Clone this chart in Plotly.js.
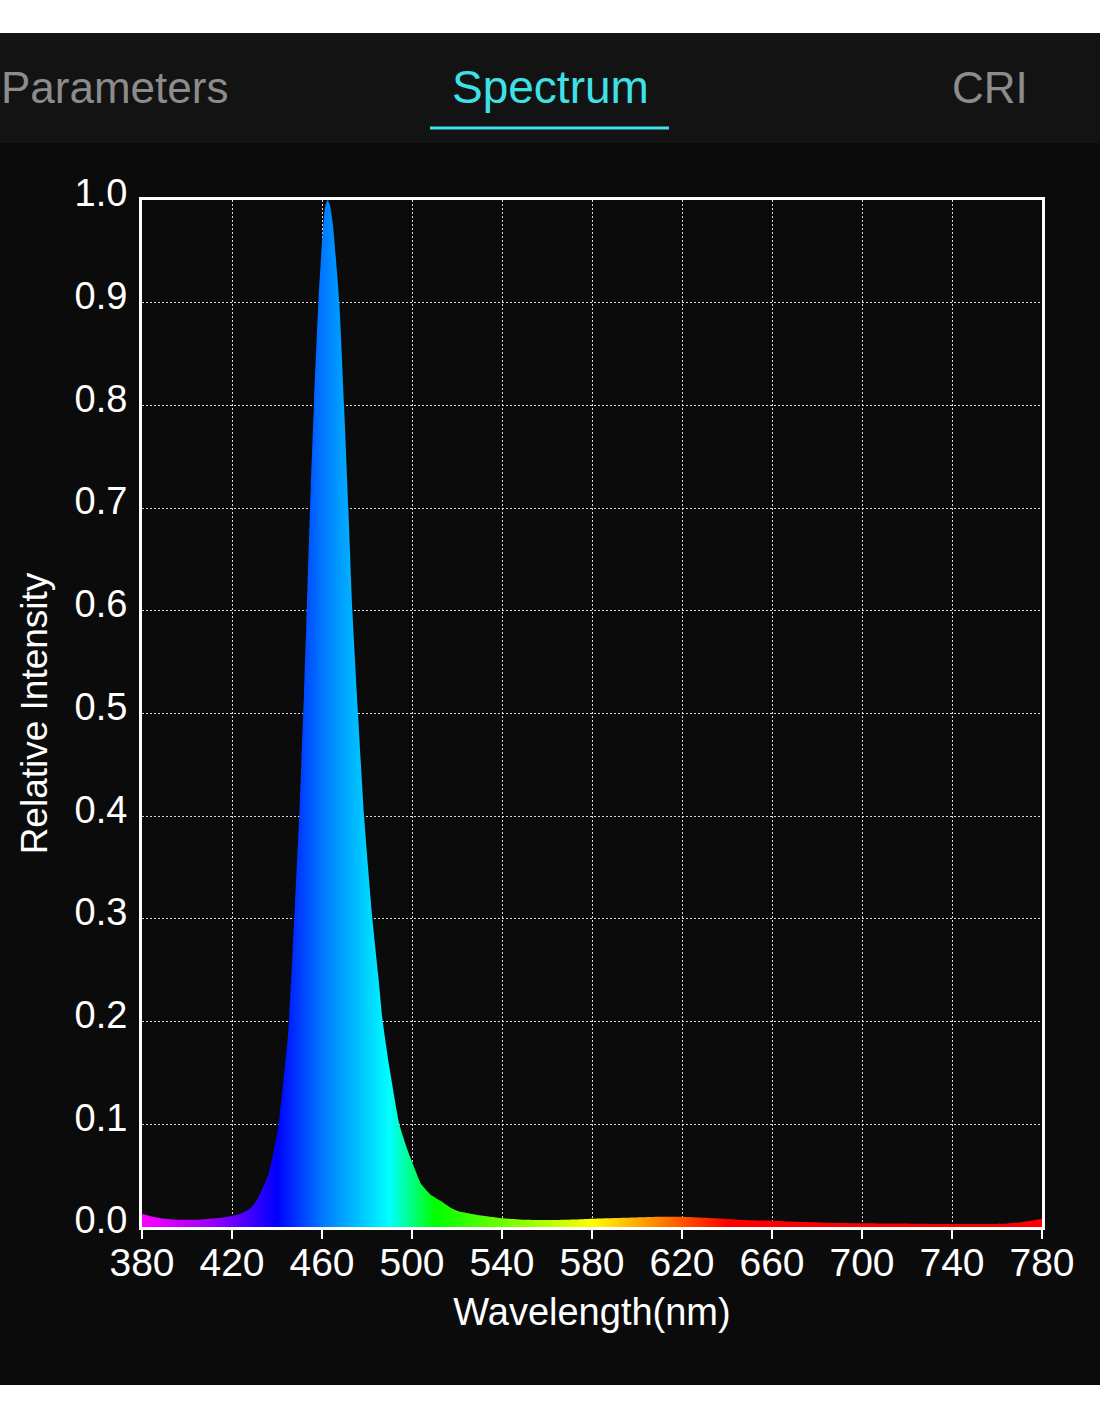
<!DOCTYPE html>
<html>
<head>
<meta charset="utf-8">
<script src="https://cdn.plot.ly/plotly-3.0.1.min.js"></script>
<style>
  html, body { margin: 0; padding: 0; background: #ffffff; }
  #chart { width: 1100px; height: 1422px; }
</style>
</head>
<body>
<div id="chart"></div>
<script>
// Wavelength (nm) sample positions
const wavelengths = [380,385,390,395,400,405,410,415,420,424,
  428,430,432,434,436,438,440,441,443,445,
  447,448,450,452,453,455,456.5,458.5,459.6,460.6,
  461.5,462.5,463.5,464.8,466.1,467.7,469.8,471.7,473.5,476,
  478.7,482.4,485,487,490,494.4,498,501,504,508,
  513,517,521,526,530,535,540,545,550,557,
  565,572,580,587,595,602,610,620,630,640,
  650,660,670,684,700,715,730,745,758,765,
  770,775,780];

// Relative intensity
const intensity = [0.013,0.010,0.008,0.007,0.007,0.007,0.008,0.009,0.011,0.013,
  0.018,0.023,0.030,0.040,0.050,0.068,0.090,0.105,0.145,0.190,
  0.270,0.315,0.405,0.520,0.585,0.720,0.805,0.905,0.945,0.977,
  0.995,1.000,0.995,0.977,0.945,0.900,0.800,0.700,0.600,0.500,
  0.400,0.300,0.245,0.200,0.155,0.100,0.075,0.058,0.042,0.032,
  0.025,0.019,0.015,0.013,0.0115,0.010,0.0085,0.0078,0.007,0.0068,
  0.0068,0.0072,0.008,0.0085,0.009,0.0095,0.010,0.010,0.009,0.0078,
  0.0065,0.006,0.005,0.0042,0.0036,0.0033,0.003,0.003,0.003,0.0035,
  0.0045,0.006,0.008];

// Tick labels
const xTicks = [380,420,460,500,540,580,620,660,700,740,780];
const yTicks = [0.0,0.1,0.2,0.3,0.4,0.5,0.6,0.7,0.8,0.9,1.0];
const yTickText = ["0.0","0.1","0.2","0.3","0.4","0.5","0.6","0.7","0.8","0.9","1.0"];

// Spectral colour stops (wavelength, colour)
const colorWl = [380, 410, 440, 460, 490, 510, 580, 610, 640, 780];
const colorHex = ["#ff00ff","#a000ff","#0000ff","#0077ff","#00ffff","#00ff00","#ffff00","#ff8000","#ff0000","#ff0000"];

// Header tabs
const tabLabels = ["Parameters", "Spectrum", "CRI"];

const wlMin = 380, wlMax = 780;
const colorscale = colorWl.map((w, i) => [(w - wlMin) / (wlMax - wlMin), colorHex[i]]);

// Layout geometry (pixels)
const W = 1100, H = 1422;
const mL = 142, mR = 58, mT = 200, mB = 195;
const pw = W - mL - mR, ph = H - mT - mB;
const px = x => (x - mL) / pw;
const py = y => (H - mB - y) / ph;

const font = "Liberation Sans, Arial, Helvetica, sans-serif";

const trace = {
  type: "scatter",
  mode: "lines",
  x: wavelengths,
  y: intensity,
  fill: "tozeroy",
  line: { width: 0, color: "rgba(0,0,0,0)", shape: "spline", smoothing: 0.5 },
  fillgradient: {
    type: "horizontal",
    start: wlMin,
    stop: wlMax,
    colorscale: colorscale
  },
  hoverinfo: "skip",
  showlegend: false
};

const layout = {
  width: W, height: H,
  margin: { l: mL, r: mR, t: mT, b: mB, pad: 0 },
  paper_bgcolor: "#0b0b0b",
  plot_bgcolor: "#0b0b0b",
  font: { family: font, color: "#ffffff", size: 38 },
  showlegend: false,
  xaxis: {
    range: [wlMin, wlMax],
    tickvals: xTicks,
    ticktext: xTicks.map(String),
    ticks: "outside",
    ticklen: 9,
    tickwidth: 2,
    tickcolor: "#ffffff",
    ticklabelstandoff: -10,
    showline: true,
    linecolor: "#ffffff",
    linewidth: 3,
    mirror: true,
    showgrid: true,
    gridcolor: "rgba(255,255,255,0.85)",
    gridwidth: 1,
    griddash: "2px,2px",
    zeroline: false,
    tickfont: { family: font, size: 39, color: "#ffffff" },
    title: { text: "Wavelength(nm)", font: { family: font, size: 38, color: "#ffffff" }, standoff: 16 },
    fixedrange: true
  },
  yaxis: {
    range: [0, 1],
    tickvals: yTicks,
    ticktext: yTickText,
    ticks: "outside",
    ticklen: 4,
    tickcolor: "rgba(0,0,0,0)",
    ticklabelshift: -7,
    showline: true,
    linecolor: "#ffffff",
    linewidth: 3,
    mirror: true,
    showgrid: true,
    gridcolor: "rgba(255,255,255,0.85)",
    gridwidth: 1,
    griddash: "2px,2px",
    zeroline: false,
    tickfont: { family: font, size: 38, color: "#ffffff" },
    title: { text: "Relative Intensity", font: { family: font, size: 37, color: "#ffffff" }, standoff: 16 },
    fixedrange: true
  },
  shapes: [
    // top white band
    { type: "rect", xref: "paper", yref: "paper", x0: px(-10), x1: px(W + 10), y0: py(33), y1: py(-10), fillcolor: "#ffffff", line: { width: 0 }, layer: "below" },
    // header bar
    { type: "rect", xref: "paper", yref: "paper", x0: px(-10), x1: px(W + 10), y0: py(143), y1: py(33), fillcolor: "#131313", line: { width: 0 }, layer: "below" },
    // bottom white band
    { type: "rect", xref: "paper", yref: "paper", x0: px(-10), x1: px(W + 10), y0: py(H + 10), y1: py(1385), fillcolor: "#ffffff", line: { width: 0 }, layer: "below" },
    // active tab underline
    { type: "line", xref: "paper", yref: "paper", x0: px(430), x1: px(669), y0: py(128), y1: py(128), line: { color: "#3ee2e6", width: 3 } }
  ],
  annotations: [
    { text: tabLabels[0], xref: "paper", yref: "paper", x: px(230), y: py(87), xanchor: "right", yanchor: "middle", showarrow: false, font: { family: font, size: 44, color: "#8c8c8c" } },
    { text: tabLabels[1], xref: "paper", yref: "paper", x: px(550), y: py(87), xanchor: "center", yanchor: "middle", showarrow: false, font: { family: font, size: 46, color: "#3ee2e6" } },
    { text: tabLabels[2], xref: "paper", yref: "paper", x: px(1030), y: py(87), xanchor: "right", yanchor: "middle", showarrow: false, font: { family: font, size: 44, color: "#8c8c8c" } }
  ]
};

Plotly.newPlot("chart", [trace], layout, { displayModeBar: false, staticPlot: true });
</script>
</body>
</html>
